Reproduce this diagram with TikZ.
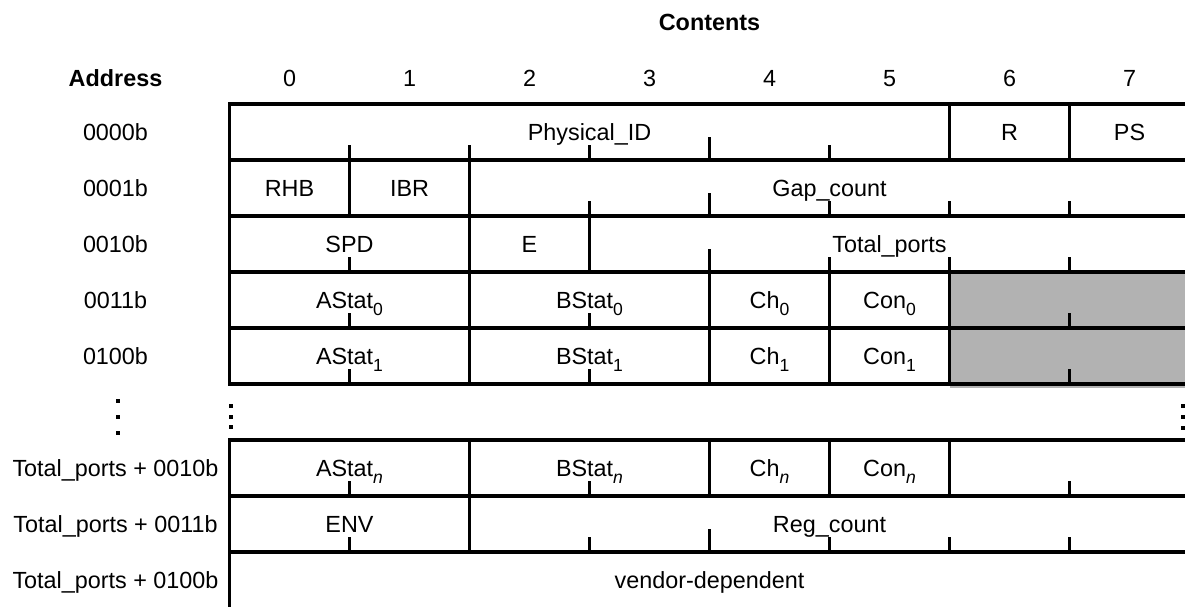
\documentclass[tikz,border=0pt]{standalone}
\usepackage{fontspec}
\setmainfont{Liberation Sans}
\newcommand{\idx}[1]{\raisebox{-0.5ex}{\fontsize{10}{10}\selectfont #1}}
\tikzset{
	rule/.style={line width=0.66mm},
	field/.style={font=\fontsize{13.3}{16}\selectfont, anchor=base, inner sep=0pt},
	heading/.style={field, font=\fontsize{13.3}{16}\selectfont\bfseries},
}
\begin{document}
\begin{tikzpicture}[x=2.4cm, y=1.12cm]
		\useasboundingbox (-1.9125,0.018) rectangle (7.9625,10.857);
		
		% shaded bytes
		\fill[black!30] (6,3.934) rectangle (7.9625,6);
		
		\draw[rule] (7.9625,9) -- (0,9) -- (0,4) -- (7.9625,4);
		\foreach \y in {5,6,7,8}
			\draw[rule] (0,\y) -- (7.9625,\y);
		\draw[rule] (7.9625,3) -- (0,3) -- (0,0);
		\foreach \y in {1,2}
			\draw[rule] (0,\y) -- (7.9625,\y);
		
		% field borders
		\foreach \x/\y in {6/8,7/8, 1/7,2/7, 2/6,3/6, 2/5,4/5,5/5,6/5, 2/4,4/4,5/4,6/4, 2/2,4/2,5/2,6/2, 2/1}
			\draw[rule] (\x,\y) -- ++(0,1);
		
		% byte marks
		\foreach \x/\y/\h in {1/8/0.27,2/8/0.27,3/8/0.27,4/8/0.41,5/8/0.27,
			3/7/0.27,4/7/0.41,5/7/0.27,6/7/0.27,7/7/0.27,
			1/6/0.27,4/6/0.41,5/6/0.27,6/6/0.27,7/6/0.27,
			1/5/0.27,3/5/0.27,7/5/0.27,
			1/4/0.27,3/4/0.27,7/4/0.27,
			1/2/0.27,3/2/0.27,7/2/0.27,
			1/1/0.27,3/1/0.27,4/1/0.41,5/1/0.27,6/1/0.27,7/1/0.27}
			\draw[rule] (\x,\y) -- ++(0,\h);
		
		% dots
		\foreach \y in {3.702,3.416,3.130}
			\fill (-0.932,\y) ++(-0.4mm,-0.4mm) rectangle ++(0.8mm,0.8mm);
		\foreach \y in {3.607,3.416,3.227}
			\fill (0.0125,\y) ++(-0.4mm,-0.4mm) rectangle ++(0.8mm,0.8mm);
		\foreach \y in {3.612,3.416,3.220}
			\fill (7.946,\y) ++(-0.4mm,-0.4mm) rectangle ++(0.8mm,0.8mm);
		
		% headings
		\node[heading] (contents) at (4,10.32) {Contents};
		\node[heading] (address) at (-0.95,9.31) {Address};
		\foreach \i in {0,...,7}
			\node[field] (col\i) at (\i+0.5,9.31) {\i};
		
		% addresses
		\node[field] (addr0) at (-0.95,8.34) {0000b};
		\node[field] (addr1) at (-0.95,7.34) {0001b};
		\node[field] (addr2) at (-0.95,6.34) {0010b};
		\node[field] (addr3) at (-0.95,5.34) {0011b};
		\node[field] (addr4) at (-0.95,4.34) {0100b};
		\node[field] (addr5) at (-0.95,2.34) {Total\_ports + 0010b};
		\node[field] (addr6) at (-0.95,1.34) {Total\_ports + 0011b};
		\node[field] (addr7) at (-0.95,0.34) {Total\_ports + 0100b};
		
		% contents
		\node[field] (physid) at (3,8.34) {Physical\_ID};
		\node[field] (r) at (6.5,8.34) {R};
		\node[field] (ps) at (7.5,8.34) {PS};
		
		\node[field] (rhb) at (0.5,7.34) {RHB};
		\node[field] (ibr) at (1.5,7.34) {IBR};
		\node[field] (gapcnt) at (5,7.34) {Gap\_count};
		
		\node[field] (spd) at (1,6.34) {SPD};
		\node[field] (e) at (2.5,6.34) {E};
		\node[field] (totports) at (5.5,6.34) {Total\_ports};
		
		\node[field] (astat0) at (1,5.34) {AStat\idx{0}};
		\node[field] (bstat0) at (3,5.34) {BStat\idx{0}};
		\node[field] (ch0) at (4.5,5.34) {Ch\idx{0}};
		\node[field] (con0) at (5.5,5.34) {Con\idx{0}};
		
		\node[field] (astat1) at (1,4.34) {AStat\idx{1}};
		\node[field] (bstat1) at (3,4.34) {BStat\idx{1}};
		\node[field] (ch1) at (4.5,4.34) {Ch\idx{1}};
		\node[field] (con1) at (5.5,4.34) {Con\idx{1}};
		
		\node[field] (astatn) at (1,2.34) {AStat\idx{\itshape n}};
		\node[field] (bstatn) at (3,2.34) {BStat\idx{\itshape n}};
		\node[field] (chn) at (4.5,2.34) {Ch\idx{\itshape n}};
		\node[field] (conn) at (5.5,2.34) {Con\idx{\itshape n}};
		
		\node[field] (env) at (1,1.34) {ENV};
		\node[field] (regcnt) at (5,1.34) {Reg\_count};
		
		\node[field] (vendor) at (4,0.34) {vendor-dependent};
		
	\end{tikzpicture}
\end{document}
